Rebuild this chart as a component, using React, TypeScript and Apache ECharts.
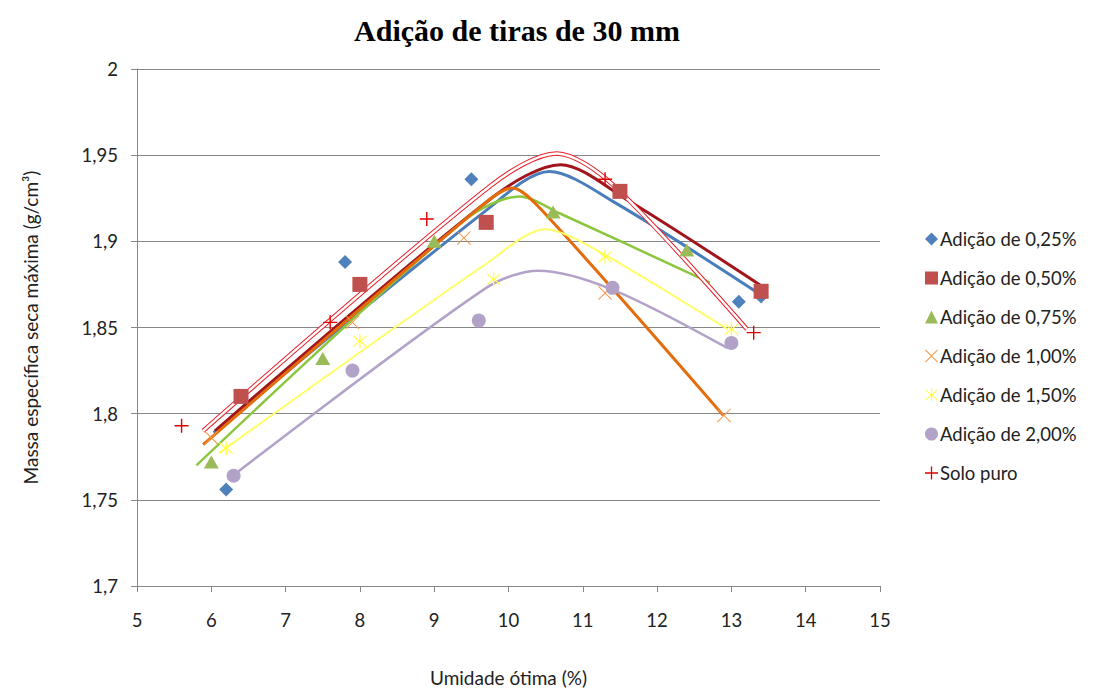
import React, { useEffect, useRef } from "react";
import * as echarts from "echarts";

// ---- Data ----
const seriesNames = [
  "Adição de 0,25%",
  "Adição de 0,50%",
  "Adição de 0,75%",
  "Adição de 1,00%",
  "Adição de 1,50%",
  "Adição de 2,00%",
  "Solo puro",
];

// measured points [umidade, massa]
const pts025 = [[6.2, 1.756], [7.8, 1.888], [9.5, 1.936], [13.1, 1.865], [13.4, 1.868]];
const pts050 = [[6.4, 1.81], [8.0, 1.875], [9.7, 1.911], [11.5, 1.929], [13.4, 1.871]];
const pts075 = [[6.0, 1.772], [7.5, 1.832], [9.0, 1.9], [10.6, 1.917], [12.4, 1.895]];
const pts100 = [[6.0, 1.786], [7.9, 1.853], [9.4, 1.902], [11.3, 1.87], [12.9, 1.799]];
const pts150 = [[6.2, 1.78], [8.0, 1.842], [9.8, 1.878], [11.3, 1.891], [13.0, 1.849]];
const pts200 = [[6.3, 1.764], [7.9, 1.825], [9.6, 1.854], [11.4, 1.873], [13.0, 1.841]];
const ptsSolo = [[5.6, 1.793], [7.6, 1.853], [8.9, 1.913], [11.3, 1.936], [13.3, 1.847]];

// fitted curve nodes (as drawn in the reference)
const fit025 = [[6.03, 1.789], [9.7, 1.918], [10.55, 1.9405], [11.45, 1.922], [13.43, 1.868]];
const fit050 = [[6.05, 1.79], [9.8, 1.926], [10.7, 1.9445], [11.6, 1.924], [13.41, 1.874]];
const fit075 = [[5.8, 1.77], [9.4, 1.912], [10.15, 1.926], [10.7, 1.916], [12.71, 1.876]];
const fit100 = [[5.89, 1.782], [9.65, 1.921], [10.05, 1.931], [10.45, 1.918], [12.89, 1.799]];
const fit150 = [[6.1, 1.777], [9.7, 1.887], [10.5, 1.907], [11.1, 1.897], [12.95, 1.849]];
const fit200 = [[6.29, 1.764], [9.7, 1.873], [10.4, 1.883], [11.4, 1.872], [12.95, 1.838]];
const fitSolo = [[5.89, 1.79], [9.75, 1.932], [10.65, 1.951], [11.4, 1.933], [13.21, 1.849]];

const xTicks = { min: 5, max: 15, interval: 1 };
const yTicks = { min: 1.7, max: 2, interval: 0.05 };

const PLUS = "path://M6.3,0 H7.7 V6.3 H14 V7.7 H7.7 V14 H6.3 V7.7 H0 V6.3 H6.3 Z";
const CROSS =
  "path://M0.7,0 L7,6.3 L13.3,0 L14,0.7 L7.7,7 L14,13.3 L13.3,14 L7,7.7 L0.7,14 L0,13.3 L6.3,7 L0,0.7 Z";
const STAR =
  "path://M6.4,0 H7.6 V6.2 L12.6,1.2 L13.4,2 L8.3,7 L13.4,12 L12.6,12.8 L7.6,7.8 V14 H6.4 V7.8 L1.4,12.8 L0.6,12 L5.7,7 L0.6,2 L1.4,1.2 L6.4,6.2 Z";

export default function App() {
  const ref = useRef<HTMLDivElement>(null);
  useEffect(() => {
    if (!ref.current) return;
    const chart = echarts.init(ref.current, null, { renderer: "svg" });
    const font = "Lato, 'Open Sans', sans-serif";

    const line = (name: string, data: number[][], color: string, width: number, z = 2) => ({
      name,
      type: "line",
      data,
      smooth: 0.3,
      showSymbol: false,
      symbol: "none",
      lineStyle: { color, width },
      z,
      silent: true,
    });
    const scatter = (name: string, data: number[][], color: string, symbol: string, size: any) => ({
      name,
      type: "scatter",
      data,
      symbol,
      symbolSize: size,
      itemStyle: { color, opacity: 1 },
      z: 5,
    });

    chart.setOption({
      animation: false,
      backgroundColor: "#fff",
      title: {
        text: "Adição de tiras de 30 mm",
        left: 512,
        textAlign: "center",
        top: 10,
        textStyle: {
          fontFamily: "'Liberation Serif', serif",
          fontWeight: "bold",
          fontSize: 30,
          color: "#000",
        },
      },
      grid: { left: 137, right: 214, top: 69, bottom: 104, containLabel: false },
      legend: {
        orient: "vertical",
        left: 920,
        top: 223,
        itemWidth: 13,
        itemHeight: 13,
        itemGap: 17,
        data: seriesNames,
        textStyle: { fontFamily: font, fontSize: 18.5, color: "#222", lineHeight: 22, padding: [0, 0, 0, -3] },
      },
      xAxis: {
        type: "value",
        ...xTicks,
        name: "Umidade ótima (%)",
        nameLocation: "middle",
        nameGap: 82,
        nameTextStyle: { fontFamily: font, fontSize: 19, color: "#222" },
        axisLine: { lineStyle: { color: "#868686", width: 1 } },
        axisTick: { show: true, length: 6, lineStyle: { color: "#868686" } },
        axisLabel: { fontFamily: font, fontSize: 18.5, color: "#222", margin: 24 },
        splitLine: { show: false },
      },
      yAxis: {
        type: "value",
        ...yTicks,
        name: "Massa específica seca máxima (g/cm³)",
        nameLocation: "middle",
        nameGap: 97,
        nameTextStyle: { fontFamily: font, fontSize: 19, color: "#222" },
        axisLine: { show: true, lineStyle: { color: "#868686", width: 1 } },
        axisTick: { show: true, length: 6, lineStyle: { color: "#868686" } },
        axisLabel: {
          fontFamily: font,
          fontSize: 18.5,
          color: "#222",
          margin: 19,
          formatter: (v: number) => String(Math.round(v * 100) / 100).replace(".", ","),
        },
        splitLine: { show: true, lineStyle: { color: "#868686", width: 1 } },
      },
      series: [
        line("fit025", fit025, "#4A7EBB", 3),
        line("fit050", fit050, "#A0161C", 3),
        line("fit075", fit075, "#8CC63F", 2.5),
        line("fit100", fit100, "#E46C0A", 3),
        line("fit150", fit150, "#FFFF66", 2),
        line("fit200", fit200, "#B3A2C7", 2.5),
        line("fitSoloOut", fitSolo, "#E8202A", 4.5, 3),
        line("fitSoloIn", fitSolo, "#FFFFFF", 2.5, 3),
        scatter(seriesNames[0], pts025, "#4F81BD", "diamond", [14, 14]),
        scatter(seriesNames[1], pts050, "#C0504D", "rect", [15, 15]),
        scatter(seriesNames[2], pts075, "#9BBB59", "triangle", [15, 13]),
        scatter(seriesNames[3], pts100, "#F79646", CROSS, [14, 14]),
        scatter(seriesNames[4], pts150, "#FFFF40", STAR, [14, 14]),
        scatter(seriesNames[5], pts200, "#B3A2C7", "circle", [14, 14]),
        scatter(seriesNames[6], ptsSolo, "#E00000", PLUS, [14, 14]),
      ],
    });
    return () => chart.dispose();
  }, []);
  return (
    <div
      ref={ref}
      style={{ position: "absolute", left: 0, top: 0, width: 1094, height: 692, background: "#fff" }}
    />
  );
}
